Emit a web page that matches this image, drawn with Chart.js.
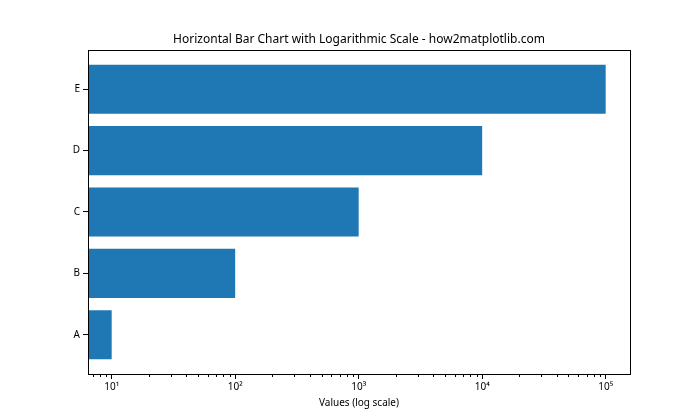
<!DOCTYPE html>
<html>
<head>
<meta charset="utf-8">
<script src="https://cdn.jsdelivr.net/npm/chart.js@4.4.1/dist/chart.umd.min.js"></script>
<style>
  html, body { margin: 0; padding: 0; background: #fff; }
  #wrap { width: 700px; height: 420px; }
</style>
</head>
<body>
<div id="wrap"><canvas id="myChart" width="700" height="420"></canvas></div>
<script>
var categories = ['A', 'B', 'C', 'D', 'E'];
var values = [10, 100, 1000, 10000, 100000];
var tickLabels = { 10: '10¹', 100: '10²', 1000: '10³', 10000: '10⁴', 100000: '10⁵' };
var titleText = 'Horizontal Bar Chart with Logarithmic Scale - how2matplotlib.com';

var font = "'Noto Sans', 'DejaVu Sans', sans-serif";

function isMajor(v) { return tickLabels[v] !== undefined; }

// spines, short minor ticks and the title centred over the plot area
var frame = {
  id: 'frame',
  afterDraw: function(chart) {
    var a = chart.chartArea, c = chart.ctx;
    var xs = chart.scales.x;
    c.save();
    c.strokeStyle = '#000';
    c.lineWidth = 1;
    c.strokeRect(Math.round(a.left) + 0.5, Math.round(a.top) + 0.5,
      Math.round(a.right - a.left), Math.round(a.bottom - a.top));
    c.beginPath();
    xs.ticks.forEach(function(t) {
      if (isMajor(t.value)) return;
      var px = Math.round(xs.getPixelForValue(t.value)) + 0.5;
      c.moveTo(px, a.bottom);
      c.lineTo(px, a.bottom + 3);
    });
    c.stroke();
    c.fillStyle = '#000';
    c.font = '12px ' + font;
    c.textAlign = 'center';
    c.textBaseline = 'middle';
    c.fillText(titleText, (a.left + a.right) / 2, 40);
    c.restore();
  }
};

var ctx = document.getElementById('myChart').getContext('2d');
var myChart = new Chart(ctx, {
  type: 'bar',
  data: {
    datasets: [{
      label: 'values',
      data: values.map(function(v, i) { return { x: v, y: i }; }),
      backgroundColor: '#1f77b4',
      borderWidth: 0,
      barPercentage: 0.8,
      categoryPercentage: 1.0
    }]
  },
  options: {
    indexAxis: 'y',
    responsive: false,
    animation: false,
    layout: { padding: { left: 0, right: 70, top: 50, bottom: 0 } },
    plugins: {
      legend: { display: false },
      tooltip: { enabled: false },
      title: { display: false }
    },
    scales: {
      x: {
        type: 'logarithmic',
        min: 6.43,
        max: 157400,
        afterBuildTicks: function(axis) {
          var t = [];
          for (var p = 1; p <= 100000; p *= 10) {
            for (var m = 1; m < 10; m++) {
              var v = m * p;
              if (v >= axis.min && v <= axis.max) t.push({ value: v });
            }
          }
          axis.ticks = t;
        },
        afterFit: function(axis) { axis.height = 46; },
        ticks: {
          autoSkip: false,
          maxRotation: 0,
          color: '#000',
          padding: 2,
          font: { family: font, size: 10 },
          callback: function(v) { return tickLabels[v] || ''; }
        },
        grid: {
          drawOnChartArea: false,
          tickLength: 5,
          tickColor: function(c) { return c.tick && isMajor(c.tick.value) ? '#000' : 'rgba(0,0,0,0)'; }
        },
        border: { display: true, color: '#000' },
        title: {
          display: true,
          text: 'Values (log scale)',
          color: '#000',
          font: { family: font, size: 10 },
          padding: { top: 0, bottom: 11 }
        }
      },
      y: {
        type: 'linear',
        offset: false,
        min: -0.64,
        max: 4.64,
        afterBuildTicks: function(axis) {
          axis.ticks = categories.map(function(c, i) { return { value: i }; });
        },
        afterFit: function(axis) { axis.width = 88; },
        ticks: {
          color: '#000',
          padding: 3,
          font: { family: font, size: 10 },
          callback: function(v) { return categories[v]; }
        },
        grid: { offset: false, drawOnChartArea: false, tickLength: 5, tickColor: '#000' },
        border: { display: true, color: '#000' }
      }
    }
  },
  plugins: [frame]
});
</script>
</body>
</html>
